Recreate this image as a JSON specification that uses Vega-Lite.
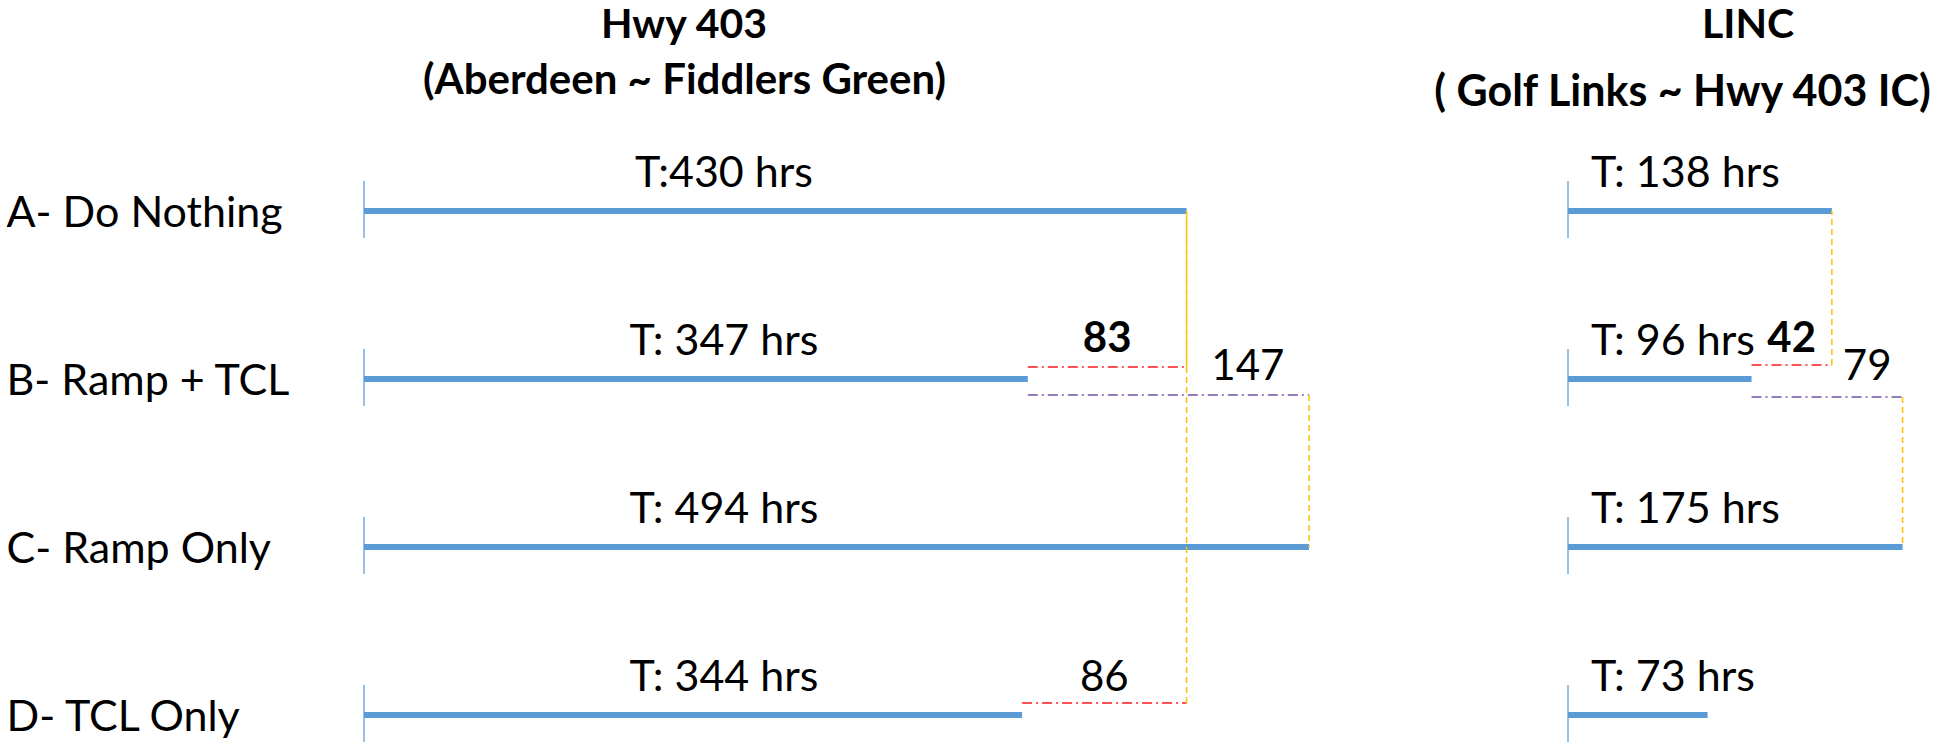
{
  "$schema": "https://vega.github.io/schema/vega-lite/v6.json",
  "background": "white",
  "padding": {"left": 6, "top": 5, "right": 0, "bottom": 0},
  "spacing": 104,
  "bounds": "flush",
  "resolve": {"scale": {"x": "independent", "y": "independent"}},
  "datasets": {
    "totals": [
      {"corridor": "Hwy 403", "scenario": "A- Do Nothing", "hrs": 430, "label": "T:430 hrs"},
      {"corridor": "Hwy 403", "scenario": "B- Ramp + TCL", "hrs": 347, "label": "T: 347 hrs"},
      {"corridor": "Hwy 403", "scenario": "C- Ramp Only", "hrs": 494, "label": "T: 494 hrs"},
      {"corridor": "Hwy 403", "scenario": "D- TCL Only", "hrs": 344, "label": "T: 344 hrs"},
      {"corridor": "LINC", "scenario": "A- Do Nothing", "hrs": 138, "label": "T: 138 hrs"},
      {"corridor": "LINC", "scenario": "B- Ramp + TCL", "hrs": 96, "label": "T: 96 hrs"},
      {"corridor": "LINC", "scenario": "C- Ramp Only", "hrs": 175, "label": "T: 175 hrs"},
      {"corridor": "LINC", "scenario": "D- TCL Only", "hrs": 73, "label": "T: 73 hrs"}
    ],
    "diffs": [
      {"corridor": "Hwy 403", "scenario": "B- Ramp + TCL", "vs": "A- Do Nothing", "pair": "B vs A", "from": 347, "to": 430, "base": 430, "diff": 83},
      {"corridor": "Hwy 403", "scenario": "B- Ramp + TCL", "vs": "C- Ramp Only", "pair": "B vs C", "from": 347, "to": 494, "base": 430, "diff": 147},
      {"corridor": "Hwy 403", "scenario": "D- TCL Only", "vs": "A- Do Nothing", "pair": "D vs A", "from": 344, "to": 430, "base": 430, "diff": 86},
      {"corridor": "LINC", "scenario": "B- Ramp + TCL", "vs": "A- Do Nothing", "pair": "B vs A", "from": 96, "to": 138, "base": 138, "diff": 42},
      {"corridor": "LINC", "scenario": "B- Ramp + TCL", "vs": "C- Ramp Only", "pair": "B vs C", "from": 96, "to": 175, "base": 138, "diff": 79}
    ]
  },
  "hconcat": [
    {
      "width": 1100,
      "height": 504,
      "title": {"text": "Hwy 403", "anchor": "middle", "dx": -230, "offset": 12, "fontSize": 41, "fontWeight": "bold", "font": "Lato", "color": "#000000"},
      "layer": [
        {
          "data": {"name": "totals"},
          "transform": [{"filter": "datum.corridor == 'Hwy 403'"}],
          "mark": {"type": "bar", "color": "#5B9BD5", "size": 6},
          "encoding": {
            "x": {"field": "hrs", "type": "quantitative", "scale": {"domain": [0, 575], "nice": false, "zero": true},
              "axis": {"orient": "top", "title": "(Aberdeen  ~ Fiddlers Green)", "labels": false, "ticks": false, "domain": false, "grid": false,
                "titleX": 320, "titleY": -131, "titleBaseline": "middle", "titleAlign": "center", "titleFontSize": 42, "titleFontWeight": "bold", "titleFont": "Lato", "titleColor": "#000000"}},
            "y": {"field": "scenario", "type": "ordinal", "title": null,
              "scale": {"type": "point", "domain": ["A- Do Nothing", "B- Ramp + TCL", "C- Ramp Only", "D- TCL Only"], "padding": 0},
              "axis": {"orient": "left", "domain": false, "ticks": false, "tickSize": 0, "grid": false, "labelAlign": "left", "labelBaseline": "middle",
                "labelPadding": 358, "labelFontSize": 43, "labelFont": "Lato", "labelColor": "#000000", "labelLimit": 600, "labelOffset": 2}}
          }
        },
        {
          "data": {"name": "totals"},
          "transform": [{"filter": "datum.corridor == 'Hwy 403'"}],
          "mark": {"type": "tick", "color": "#5B9BD5", "thickness": 1.5, "size": 57, "yOffset": -1.5, "opacity": 0.85},
          "encoding": {
            "x": {"datum": 0, "type": "quantitative"},
            "y": {"field": "scenario", "type": "ordinal", "title": null}
          }
        },
        {
          "data": {"name": "totals"},
          "transform": [{"filter": "datum.corridor == 'Hwy 403'"}],
          "mark": {"type": "text", "align": "center", "baseline": "middle", "dx": 360, "dy": -37, "fontSize": 43, "font": "Lato", "color": "#000000"},
          "encoding": {
            "x": {"datum": 0, "type": "quantitative"},
            "y": {"field": "scenario", "type": "ordinal", "title": null},
            "text": {"field": "label"}
          }
        },
        {
          "data": {"name": "diffs"},
          "transform": [{"filter": "datum.corridor == 'Hwy 403' && datum.pair != 'B vs C'"}],
          "mark": {"type": "rule", "color": "#FF1A1A", "strokeWidth": 1.5, "strokeDash": [10, 4, 2, 4], "yOffset": -12},
          "encoding": {
            "x": {"field": "from", "type": "quantitative"},
            "x2": {"field": "to"},
            "y": {"field": "scenario", "type": "ordinal", "title": null}
          }
        },
        {
          "data": {"name": "diffs"},
          "transform": [{"filter": "datum.corridor == 'Hwy 403' && datum.pair == 'B vs C'"}],
          "mark": {"type": "rule", "color": "#7352A8", "strokeWidth": 1.5, "strokeDash": [10, 4, 2, 4], "yOffset": 16},
          "encoding": {
            "x": {"field": "from", "type": "quantitative"},
            "x2": {"field": "to"},
            "y": {"field": "scenario", "type": "ordinal", "title": null}
          }
        },
        {
          "data": {"name": "diffs"},
          "transform": [{"filter": "datum.corridor == 'Hwy 403' && datum.pair != 'B vs C'"}],
          "mark": {"type": "rule", "color": "#FFC000", "strokeWidth": 1.5, "strokeDash": [6, 4], "yOffset": -12},
          "encoding": {
            "x": {"field": "to", "type": "quantitative"},
            "y": {"field": "scenario", "type": "ordinal", "title": null},
            "y2": {"field": "vs"}
          }
        },
        {
          "data": {"name": "diffs"},
          "transform": [{"filter": "datum.corridor == 'Hwy 403' && datum.pair == 'B vs C'"}],
          "mark": {"type": "rule", "color": "#FFC000", "strokeWidth": 1.5, "strokeDash": [6, 4], "yOffset": 16},
          "encoding": {
            "x": {"field": "to", "type": "quantitative"},
            "y": {"field": "scenario", "type": "ordinal", "title": null},
            "y2": {"field": "vs"}
          }
        },
        {
          "data": {"name": "diffs"},
          "transform": [{"filter": "datum.corridor == 'Hwy 403' && datum.pair == 'B vs A'"}, {"calculate": "(datum.from + datum.to) / 2", "as": "labelAt"}],
          "mark": {"type": "text", "align": "center", "baseline": "middle", "dy": -40, "fontSize": 42, "fontWeight": "bold", "font": "Lato", "color": "#000000"},
          "encoding": {
            "x": {"field": "labelAt", "type": "quantitative"},
            "y": {"field": "scenario", "type": "ordinal", "title": null},
            "text": {"field": "diff", "type": "quantitative"}
          }
        },
        {
          "data": {"name": "diffs"},
          "transform": [{"filter": "datum.corridor == 'Hwy 403' && datum.pair == 'D vs A'"}, {"calculate": "(datum.from + datum.to) / 2", "as": "labelAt"}],
          "mark": {"type": "text", "align": "center", "baseline": "middle", "dy": -37, "fontSize": 42, "font": "Lato", "color": "#000000"},
          "encoding": {
            "x": {"field": "labelAt", "type": "quantitative"},
            "y": {"field": "scenario", "type": "ordinal", "title": null},
            "text": {"field": "diff", "type": "quantitative"}
          }
        },
        {
          "data": {"name": "diffs"},
          "transform": [{"filter": "datum.corridor == 'Hwy 403' && datum.pair == 'B vs C'"}, {"calculate": "(datum.base + datum.to) / 2", "as": "labelAt"}],
          "mark": {"type": "text", "align": "center", "baseline": "middle", "dy": -12, "fontSize": 42, "font": "Lato", "color": "#000000"},
          "encoding": {
            "x": {"field": "labelAt", "type": "quantitative"},
            "y": {"field": "scenario", "type": "ordinal", "title": null},
            "text": {"field": "diff", "type": "quantitative"}
          }
        }
      ]
    },
    {
      "width": 369,
      "height": 504,
      "title": {"text": "LINC", "anchor": "middle", "dx": -4.5, "offset": 24.5, "fontSize": 41, "fontWeight": "bold", "font": "Lato", "color": "#000000"},
      "layer": [
        {
          "data": {"name": "totals"},
          "transform": [{"filter": "datum.corridor == 'LINC'"}],
          "mark": {"type": "bar", "color": "#5B9BD5", "size": 6},
          "encoding": {
            "x": {"field": "hrs", "type": "quantitative", "scale": {"domain": [0, 193], "nice": false, "zero": true},
              "axis": {"orient": "top", "title": "( Golf Links ~ Hwy 403 IC)", "labels": false, "ticks": false, "domain": false, "grid": false,
                "titleX": 114, "titleY": -118.5, "titleBaseline": "middle", "titleAlign": "center", "titleFontSize": 43, "titleFontWeight": "bold", "titleFont": "Lato", "titleColor": "#000000"}},
            "y": {"field": "scenario", "type": "ordinal", "title": null, "axis": null,
              "scale": {"type": "point", "domain": ["A- Do Nothing", "B- Ramp + TCL", "C- Ramp Only", "D- TCL Only"], "padding": 0}}
          }
        },
        {
          "data": {"name": "totals"},
          "transform": [{"filter": "datum.corridor == 'LINC'"}],
          "mark": {"type": "tick", "color": "#5B9BD5", "thickness": 1.5, "size": 57, "yOffset": -1.5, "opacity": 0.85},
          "encoding": {
            "x": {"datum": 0, "type": "quantitative"},
            "y": {"field": "scenario", "type": "ordinal", "title": null}
          }
        },
        {
          "data": {"name": "totals"},
          "transform": [{"filter": "datum.corridor == 'LINC'"}],
          "mark": {"type": "text", "align": "left", "baseline": "middle", "dx": 23, "dy": -37, "fontSize": 43, "font": "Lato", "color": "#000000"},
          "encoding": {
            "x": {"datum": 0, "type": "quantitative"},
            "y": {"field": "scenario", "type": "ordinal", "title": null},
            "text": {"field": "label"}
          }
        },
        {
          "data": {"name": "diffs"},
          "transform": [{"filter": "datum.corridor == 'LINC' && datum.pair != 'B vs C'"}],
          "mark": {"type": "rule", "color": "#FF1A1A", "strokeWidth": 1.5, "strokeDash": [10, 4, 2, 4], "yOffset": -14},
          "encoding": {
            "x": {"field": "from", "type": "quantitative"},
            "x2": {"field": "to"},
            "y": {"field": "scenario", "type": "ordinal", "title": null}
          }
        },
        {
          "data": {"name": "diffs"},
          "transform": [{"filter": "datum.corridor == 'LINC' && datum.pair == 'B vs C'"}],
          "mark": {"type": "rule", "color": "#7352A8", "strokeWidth": 1.5, "strokeDash": [10, 4, 2, 4], "yOffset": 18},
          "encoding": {
            "x": {"field": "from", "type": "quantitative"},
            "x2": {"field": "to"},
            "y": {"field": "scenario", "type": "ordinal", "title": null}
          }
        },
        {
          "data": {"name": "diffs"},
          "transform": [{"filter": "datum.corridor == 'LINC' && datum.pair != 'B vs C'"}],
          "mark": {"type": "rule", "color": "#FFC000", "strokeWidth": 1.5, "strokeDash": [6, 4], "yOffset": -14},
          "encoding": {
            "x": {"field": "to", "type": "quantitative"},
            "y": {"field": "scenario", "type": "ordinal", "title": null},
            "y2": {"field": "vs"}
          }
        },
        {
          "data": {"name": "diffs"},
          "transform": [{"filter": "datum.corridor == 'LINC' && datum.pair == 'B vs C'"}],
          "mark": {"type": "rule", "color": "#FFC000", "strokeWidth": 1.5, "strokeDash": [6, 4], "yOffset": 18},
          "encoding": {
            "x": {"field": "to", "type": "quantitative"},
            "y": {"field": "scenario", "type": "ordinal", "title": null},
            "y2": {"field": "vs"}
          }
        },
        {
          "data": {"name": "diffs"},
          "transform": [{"filter": "datum.corridor == 'LINC' && datum.pair == 'B vs A'"}, {"calculate": "(datum.from + datum.to) / 2", "as": "labelAt"}],
          "mark": {"type": "text", "align": "center", "baseline": "middle", "dy": -40, "fontSize": 42, "fontWeight": "bold", "font": "Lato", "color": "#000000"},
          "encoding": {
            "x": {"field": "labelAt", "type": "quantitative"},
            "y": {"field": "scenario", "type": "ordinal", "title": null},
            "text": {"field": "diff", "type": "quantitative"}
          }
        },
        {
          "data": {"name": "diffs"},
          "transform": [{"filter": "datum.corridor == 'LINC' && datum.pair == 'B vs C'"}, {"calculate": "(datum.base + datum.to) / 2", "as": "labelAt"}],
          "mark": {"type": "text", "align": "center", "baseline": "middle", "dy": -12, "fontSize": 42, "font": "Lato", "color": "#000000"},
          "encoding": {
            "x": {"field": "labelAt", "type": "quantitative"},
            "y": {"field": "scenario", "type": "ordinal", "title": null},
            "text": {"field": "diff", "type": "quantitative"}
          }
        }
      ]
    }
  ],
  "config": {"view": {"stroke": null}, "font": "Lato"}
}
